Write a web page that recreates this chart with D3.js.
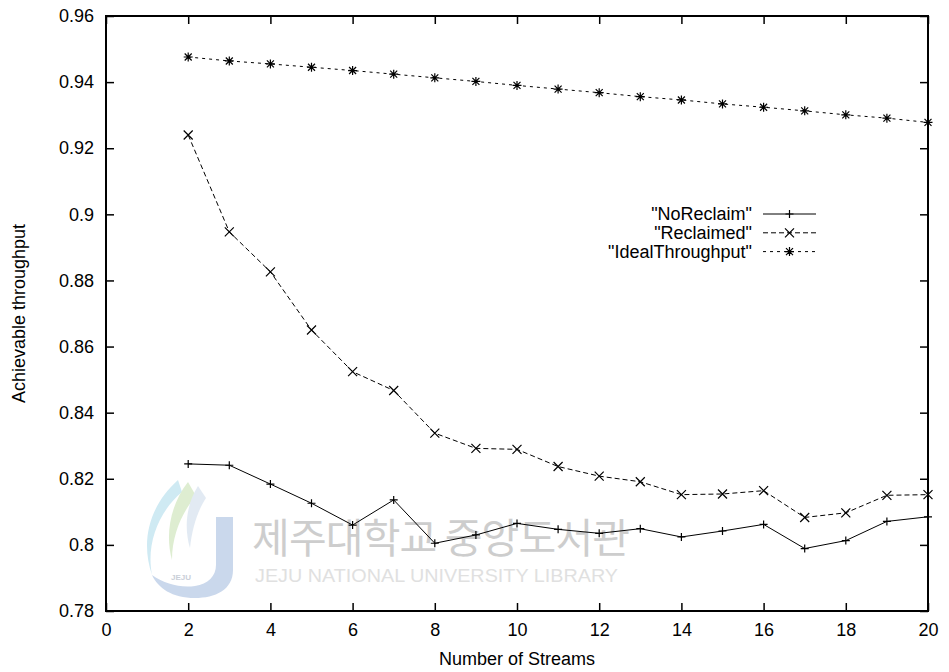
<!DOCTYPE html>
<html>
<head>
<meta charset="utf-8">
<script src="https://cdn.jsdelivr.net/npm/d3@7"></script>
<style>
  html, body { margin: 0; padding: 0; background: #fff; }
  svg { display: block; font-family: "Liberation Sans", Arial, sans-serif; }
</style>
</head>
<body>
<div id="chart"></div>
<script>
// ── Data ──
const streams = [2, 3, 4, 5, 6, 7, 8, 9, 10, 11, 12, 13, 14, 15, 16, 17, 18, 19, 20];
const noReclaim = [0.8245, 0.8241, 0.8184, 0.8126, 0.8060, 0.8136, 0.8005, 0.8030, 0.8065, 0.8047,
                   0.8035, 0.8049, 0.8024, 0.8042, 0.8062, 0.7989, 0.8013, 0.8071, 0.8085];
const reclaimed = [0.9240, 0.8947, 0.8826, 0.8650, 0.8524, 0.8467, 0.8338, 0.8292, 0.8289, 0.8237,
                   0.8208, 0.8191, 0.8152, 0.8154, 0.8164, 0.8083, 0.8097, 0.8150, 0.8152];
const ideal = [0.9476, 0.9464, 0.9455, 0.9445, 0.9435, 0.9424, 0.9413, 0.9402, 0.9390, 0.9379,
               0.9368, 0.9356, 0.9346, 0.9334, 0.9324, 0.9313, 0.9301, 0.9291, 0.9278];

const xTicks = [0, 2, 4, 6, 8, 10, 12, 14, 16, 18, 20];
const yTicks = [0.78, 0.80, 0.82, 0.84, 0.86, 0.88, 0.90, 0.92, 0.94, 0.96];
const seriesNames = ['"NoReclaim"', '"Reclaimed"', '"IdealThroughput"'];

const WIDTH = 949;
const HEIGHT = 672;
const plot = { left: 106, right: 928, top: 16, bottom: 611 };

const svg = d3.select("#chart").append("svg")
    .attr("width", WIDTH)
    .attr("height", HEIGHT);

const x = d3.scaleLinear().domain([0, 20]).range([plot.left, plot.right]);
const y = d3.scaleLinear().domain([0.78, 0.96]).range([plot.bottom, plot.top]);

// ── Watermark (library stamp behind the plot) ──
const wm = svg.append("g").attr("class", "watermark").attr("opacity", 0.75);
wm.append("path")
    .attr("d", "M216,517 H233 V570 C233,590 215,598 195,598 C172,598 158,588 152,575 C165,584 180,588 195,586 C208,584 216,576 216,565 Z")
    .attr("fill", "#b9cbe6");
wm.append("path")
    .attr("d", "M178,480 C150,505 140,540 152,575 C146,545 158,512 182,492 Z")
    .attr("fill", "#bfe3f0");
wm.append("path")
    .attr("d", "M188,482 C170,505 165,535 172,560 C172,535 182,512 196,496 Z")
    .attr("fill", "#d3e8c2");
wm.append("path")
    .attr("d", "M198,486 C186,505 184,528 190,548 C192,528 198,510 206,498 Z")
    .attr("fill", "#d9e4f0");
wm.append("text")
    .attr("x", 181).attr("y", 580)
    .attr("text-anchor", "middle")
    .attr("font-size", 8).attr("font-weight", "bold")
    .attr("fill", "#b8c0cc")
    .text("JEJU");
wm.append("text")
    .attr("x", 252).attr("y", 553)
    .attr("font-family", "'Noto Sans CJK KR', sans-serif")
    .attr("font-size", 41)
    .attr("textLength", 378)
    .attr("fill", "#bdbdbd")
    .text("제주대학교 중앙도서관");
wm.append("text")
    .attr("x", 255).attr("y", 582)
    .attr("font-size", 19)
    .attr("textLength", 363)
    .attr("lengthAdjust", "spacingAndGlyphs")
    .attr("fill", "#d6d6d6")
    .text("JEJU NATIONAL UNIVERSITY  LIBRARY");

// ── Axes with inward gnuplot-style ticks ──
const fmt = d => String(+d.toFixed(2));

function styleAxis(g) {
    g.select(".domain").remove();
    g.selectAll(".tick line").attr("stroke", "#000").attr("stroke-width", 1.5);
    g.selectAll(".tick text").attr("fill", "#000").attr("font-size", 18)
        .attr("font-family", "'Liberation Sans', Arial, sans-serif");
}

svg.append("g")
    .attr("transform", `translate(0,${plot.bottom})`)
    .call(d3.axisBottom(x).tickValues(xTicks).tickSize(-8).tickPadding(12).tickFormat(fmt))
    .call(styleAxis);

svg.append("g")
    .attr("transform", `translate(0,${plot.top})`)
    .call(d3.axisTop(x).tickValues(xTicks).tickSize(-8).tickFormat(""))
    .call(styleAxis);

svg.append("g")
    .attr("transform", `translate(${plot.left},0)`)
    .call(d3.axisLeft(y).tickValues(yTicks).tickSize(-8).tickPadding(12).tickFormat(fmt))
    .call(styleAxis);

svg.append("g")
    .attr("transform", `translate(${plot.right},0)`)
    .call(d3.axisRight(y).tickValues(yTicks).tickSize(-8).tickFormat(""))
    .call(styleAxis);

// plot border
svg.append("rect")
    .attr("x", plot.left).attr("y", plot.top)
    .attr("width", plot.right - plot.left)
    .attr("height", plot.bottom - plot.top)
    .attr("fill", "none")
    .attr("stroke", "#000")
    .attr("stroke-width", 2);

// axis titles
svg.append("text")
    .attr("x", (plot.left + plot.right) / 2)
    .attr("y", 665)
    .attr("text-anchor", "middle")
    .attr("font-size", 18)
    .text("Number of Streams");

svg.append("text")
    .attr("transform", `translate(25,${(plot.top + plot.bottom) / 2}) rotate(-90)`)
    .attr("text-anchor", "middle")
    .attr("font-size", 18)
    .text("Achievable throughput");

// ── Series ──
const markers = {
    plus: "M-4,0H4M0,-4V4",
    cross: "M-4.5,-4.5L4.5,4.5M-4.5,4.5L4.5,-4.5",
    star: "M-4.5,0H4.5M0,-4.5V4.5M-3.5,-3.5L3.5,3.5M-3.5,3.5L3.5,-3.5"
};

const series = [
    { name: seriesNames[0], values: noReclaim, dash: null, marker: markers.plus },
    { name: seriesNames[1], values: reclaimed, dash: "5,3", marker: markers.cross },
    { name: seriesNames[2], values: ideal, dash: "3,4", marker: markers.star },
];

const line = d3.line()
    .x((d, i) => x(streams[i]))
    .y(d => y(d));

series.forEach(s => {
    svg.append("path")
        .datum(s.values)
        .attr("d", line)
        .attr("fill", "none")
        .attr("stroke", "#000")
        .attr("stroke-width", 1)
        .attr("stroke-dasharray", s.dash);

    svg.append("g")
        .selectAll("path")
        .data(s.values)
        .enter()
        .append("path")
        .attr("transform", (d, i) => `translate(${x(streams[i])},${y(d)})`)
        .attr("d", s.marker)
        .attr("fill", "none")
        .attr("stroke", "#000")
        .attr("stroke-width", 1.2);
});

// ── Legend ──
const legend = svg.append("g").attr("class", "legend");
series.forEach((s, i) => {
    const ly = 214 + i * 18.8;
    legend.append("text")
        .attr("x", 752).attr("y", ly)
        .attr("dy", "0.35em")
        .attr("text-anchor", "end")
        .attr("font-size", 18)
        .text(s.name);
    legend.append("line")
        .attr("x1", 763).attr("x2", 816)
        .attr("y1", ly).attr("y2", ly)
        .attr("stroke", "#000")
        .attr("stroke-width", 1)
        .attr("stroke-dasharray", s.dash);
    legend.append("path")
        .attr("transform", `translate(789.5,${ly})`)
        .attr("d", s.marker)
        .attr("fill", "none")
        .attr("stroke", "#000")
        .attr("stroke-width", 1.2);
});
</script>
</body>
</html>
